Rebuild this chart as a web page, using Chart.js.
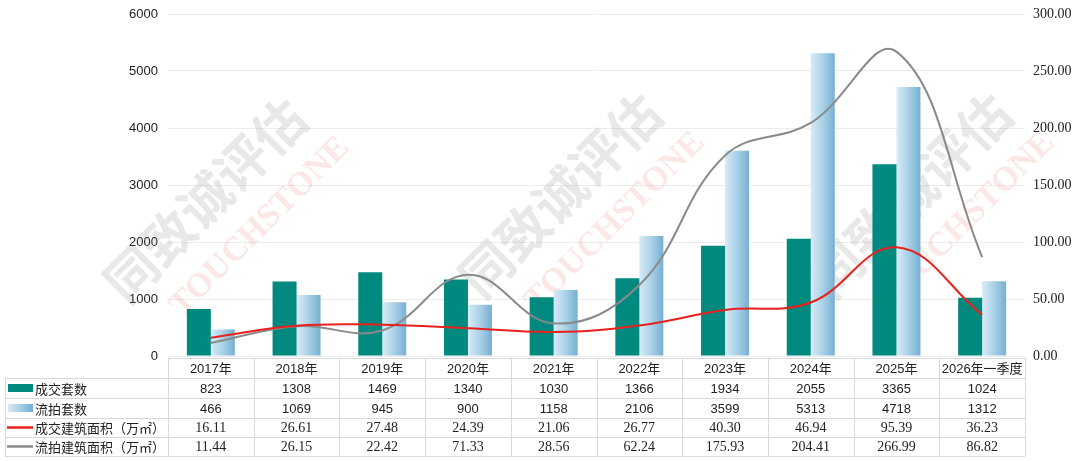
<!DOCTYPE html>
<html>
<head>
<meta charset="utf-8">
<script src="https://cdn.jsdelivr.net/npm/chart.js@4.4.1/dist/chart.umd.min.js"></script>
<style>
  html, body { margin: 0; padding: 0; background: #fff; }
</style>
</head>
<body>
<canvas id="chart" width="1080" height="461"></canvas>
<script>
const years = ['2017年', '2018年', '2019年', '2020年', '2021年', '2022年', '2023年', '2024年', '2025年', '2026年一季度'];
const dealCount = [823, 1308, 1469, 1340, 1030, 1366, 1934, 2055, 3365, 1024];
const failedCount = [466, 1069, 945, 900, 1158, 2106, 3599, 5313, 4718, 1312];
const dealArea = [16.11, 26.61, 27.48, 24.39, 21.06, 26.77, 40.30, 46.94, 95.39, 36.23];
const failedArea = [11.44, 26.15, 22.42, 71.33, 28.56, 62.24, 175.93, 204.41, 266.99, 86.82];
const seriesNames = ['成交套数', '流拍套数', '成交建筑面积（万㎡）', '流拍建筑面积（万㎡）'];
const countTicks = [0, 1000, 2000, 3000, 4000, 5000, 6000];
const areaTicks = [0, 50, 100, 150, 200, 250, 300];

const GREEN = '#00897f';
const RED = '#e8211d';
const GREY = '#8a8a8a';
const CAT_PCT = 0.56;

// light-to-dark horizontal gradient for the 流拍套数 bars
function blueFill(context) {
  const chart = context.chart;
  const xScale = chart.scales.x;
  if (!chart.chartArea || !xScale || context.dataIndex === undefined) return '#a6cfe6';
  const center = xScale.getPixelForValue(context.dataIndex);
  const barWidth = (xScale.width / years.length) * CAT_PCT / 2;
  const g = chart.ctx.createLinearGradient(center, 0, center + barWidth, 0);
  g.addColorStop(0, '#d8ebf6');
  g.addColorStop(0.5, '#a9d1e7');
  g.addColorStop(1, '#76afd1');
  return g;
}

const watermark = {
  id: 'watermark',
  beforeDatasetsDraw(chart) {
    const { ctx } = chart;
    const spots = [[205, 200], [560, 195], [910, 195]];
    ctx.save();
    spots.forEach(([cx, cy]) => {
      ctx.save();
      ctx.translate(cx, cy);
      ctx.rotate(-Math.PI / 4);
      ctx.textAlign = 'center';
      ctx.textBaseline = 'middle';
      ctx.font = 'bold 52px "Noto Sans CJK SC"';
      ctx.fillStyle = 'rgba(140,140,140,0.2)';
      ctx.fillText('同致诚评估', 0, 0);
      ctx.font = 'bold 34px "Liberation Serif"';
      ctx.fillStyle = 'rgba(235,70,70,0.13)';
      ctx.fillText('TOUCHSTONE', 20, 58);
      ctx.restore();
    });
    ctx.restore();
  },
};

const dataTable = {
  id: 'dataTable',
  afterDraw(chart) {
    const { ctx, chartArea } = chart;
    const colL = chartArea.left;
    const colR = chartArea.right;
    const step = (colR - colL) / years.length;
    const tableLeft = 5;
    const rows = [358, 378, 398, 418, 437, 456];
    ctx.save();
    ctx.strokeStyle = '#d9d9d9';
    ctx.lineWidth = 1;
    ctx.beginPath();
    ctx.moveTo(colL, rows[0] + 0.5);
    ctx.lineTo(colR, rows[0] + 0.5);
    for (let r = 1; r < rows.length; r++) {
      ctx.moveTo(tableLeft, rows[r] + 0.5);
      ctx.lineTo(colR, rows[r] + 0.5);
    }
    ctx.moveTo(tableLeft + 0.5, rows[1]);
    ctx.lineTo(tableLeft + 0.5, rows[5]);
    for (let i = 0; i <= years.length; i++) {
      const x = Math.round(colL + i * step) + 0.5;
      ctx.moveTo(x, rows[0]);
      ctx.lineTo(x, rows[5]);
    }
    ctx.stroke();

    ctx.fillStyle = '#222';
    ctx.textAlign = 'center';
    ctx.textBaseline = 'middle';
    ctx.font = '13px "Liberation Sans", "Noto Sans CJK SC"';
    years.forEach((y, i) => ctx.fillText(y, colL + (i + 0.5) * step, (rows[0] + rows[1]) / 2 + 1));

    const values = [dealCount, failedCount, dealArea, failedArea];
    values.forEach((arr, r) => {
      const cy = (rows[r + 1] + rows[r + 2]) / 2 + 1;
      ctx.font = r < 2 ? '13px "Liberation Sans"' : '14px "Liberation Serif"';
      arr.forEach((v, i) => {
        const txt = r < 2 ? String(v) : v.toFixed(2);
        ctx.fillText(txt, colL + (i + 0.5) * step, cy);
      });
    });

    // legend keys
    ctx.textAlign = 'left';
    ctx.font = '13px "Noto Sans CJK SC"';
    seriesNames.forEach((name, r) => {
      const cy = (rows[r + 1] + rows[r + 2]) / 2;
      if (r === 0) {
        ctx.fillStyle = GREEN;
        ctx.fillRect(8, cy - 4, 25, 8);
      } else if (r === 1) {
        const g = ctx.createLinearGradient(8, 0, 33, 0);
        g.addColorStop(0, '#d8ebf6');
        g.addColorStop(1, '#76afd1');
        ctx.fillStyle = g;
        ctx.fillRect(8, cy - 4, 25, 8);
      } else {
        ctx.strokeStyle = r === 2 ? RED : GREY;
        ctx.lineWidth = 2.5;
        ctx.beginPath();
        ctx.moveTo(7, cy);
        ctx.lineTo(33, cy);
        ctx.stroke();
      }
      ctx.fillStyle = '#222';
      ctx.fillText(name, 35, cy + 1);
    });
    ctx.restore();
  },
};

new Chart(document.getElementById('chart').getContext('2d'), {
  data: {
    labels: years,
    datasets: [
      {
        type: 'line',
        label: seriesNames[2],
        data: dealArea,
        yAxisID: 'y1',
        borderColor: RED,
        borderWidth: 2,
        pointRadius: 0,
        tension: 0.4,
        order: 0,
      },
      {
        type: 'line',
        label: seriesNames[3],
        data: failedArea,
        yAxisID: 'y1',
        borderColor: GREY,
        borderWidth: 2,
        pointRadius: 0,
        tension: 0.4,
        order: 0,
      },
      {
        type: 'bar',
        label: seriesNames[0],
        data: dealCount,
        yAxisID: 'y',
        backgroundColor: GREEN,
        categoryPercentage: CAT_PCT,
        barPercentage: 1,
        order: 1,
      },
      {
        type: 'bar',
        label: seriesNames[1],
        data: failedCount,
        yAxisID: 'y',
        backgroundColor: blueFill,
        categoryPercentage: CAT_PCT,
        barPercentage: 1,
        order: 1,
      },
    ],
  },
  options: {
    responsive: false,
    animation: false,
    layout: { padding: { top: 14, bottom: 105, left: 0, right: 0 } },
    plugins: {
      legend: { display: false },
      tooltip: { enabled: false },
    },
    scales: {
      x: {
        offset: true,
        grid: { display: false },
        border: { display: false },
        ticks: { display: false },
        afterFit: (scale) => { scale.height = 0; },
      },
      y: {
        position: 'left',
        min: countTicks[0],
        max: countTicks[countTicks.length - 1],
        afterBuildTicks: (scale) => { scale.ticks = countTicks.map((v) => ({ value: v })); },
        afterFit: (scale) => { scale.width = 168; scale.paddingTop = 0; scale.paddingBottom = 0; },
        grid: { color: '#ececec', drawTicks: false },
        border: { display: false },
        ticks: {
          padding: 10,
          color: '#222',
          font: { family: '"Liberation Sans"', size: 13 },
          callback: (v) => String(v),
        },
      },
      y1: {
        position: 'right',
        min: areaTicks[0],
        max: areaTicks[areaTicks.length - 1],
        afterBuildTicks: (scale) => { scale.ticks = areaTicks.map((v) => ({ value: v })); },
        afterFit: (scale) => { scale.width = 55; scale.paddingTop = 0; scale.paddingBottom = 0; },
        grid: { drawOnChartArea: false, drawTicks: false },
        border: { display: false },
        ticks: {
          padding: 8,
          color: '#222',
          font: { family: '"Liberation Serif"', size: 14 },
          callback: (v) => Number(v).toFixed(2),
        },
      },
    },
  },
  plugins: [watermark, dataTable],
});
</script>
</body>
</html>
